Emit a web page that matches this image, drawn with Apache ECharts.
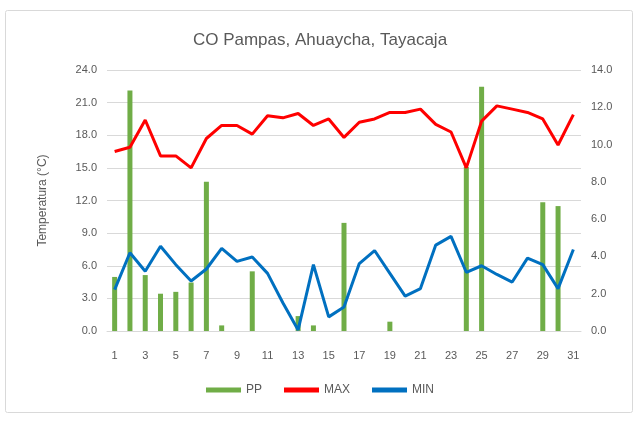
<!DOCTYPE html>
<html>
<head>
<meta charset="utf-8">
<script src="https://cdn.jsdelivr.net/npm/echarts@6/dist/echarts.min.js"></script>
<style>html,body{margin:0;padding:0;background:#fff}#c{width:640px;height:423px}</style>
</head>
<body>
<div id="c"></div>
<script>
const days = ['1','2','3','4','5','6','7','8','9','10','11','12','13','14','15','16','17','18','19','20','21','22','23','24','25','26','27','28','29','30','31'];
const pp = [2.9,12.9,3.0,2.0,2.1,2.6,8.0,0.3,0,3.2,0,0,0.8,0.3,0,5.8,0,0,0.5,0,0,0,0,8.8,13.1,0,0,0,6.9,6.7,0];
const tmax = [16.5,16.9,19.4,16.1,16.1,15.0,17.7,18.9,18.9,18.1,19.8,19.6,20.0,18.9,19.5,17.8,19.2,19.5,20.1,20.1,20.4,19.0,18.3,15.0,19.3,20.7,20.4,20.1,19.5,17.1,19.9];
const tmin = [3.8,7.2,5.5,7.8,6.1,4.6,5.7,7.6,6.4,6.8,5.3,2.6,0.1,6.1,1.3,2.2,6.2,7.4,5.3,3.2,3.9,7.9,8.7,5.4,6.0,5.2,4.5,6.7,6.1,3.9,7.5];

const chart = echarts.init(document.getElementById('c'));
const txt = '#595959';
const font = 'Liberation Sans';
chart.setOption({
  animation: false,
  textStyle: { fontFamily: font },
  graphic: [{
    type: 'rect', shape: { x: 5.5, y: 10.5, width: 627, height: 402, r: 2 },
    style: { fill: 'none', stroke: '#D9D9D9', lineWidth: 1 }, z: -1
  }],
  title: {
    text: 'CO Pampas, Ahuaycha, Tayacaja', left: 'center', top: 27,
    textStyle: { color: txt, fontSize: 17, fontWeight: 'normal', fontFamily: font }
  },
  legend: {
    bottom: 22, left: 'center', itemWidth: 35, itemHeight: 5, itemGap: 22,
    textStyle: { color: txt, fontSize: 12, fontFamily: font },
    data: [{ name: 'PP', icon: 'rect' }, { name: 'MAX', icon: 'rect' }, { name: 'MIN', icon: 'rect' }]
  },
  grid: { left: 107, right: 59, top: 70, bottom: 92 },
  xAxis: {
    type: 'category', data: days, boundaryGap: true,
    axisLine: { lineStyle: { color: '#D9D9D9' } },
    axisTick: { show: false },
    axisLabel: { color: txt, fontSize: 11, interval: 1, margin: 19, fontFamily: font }
  },
  yAxis: [{
    type: 'value', min: 0, max: 24, interval: 3,
    name: 'Temperatura (°C)', nameLocation: 'middle', nameGap: 58, nameRotate: 90,
    nameTextStyle: { color: txt, fontSize: 12, fontFamily: font },
    axisLabel: { color: txt, fontSize: 11, formatter: v => v.toFixed(1), margin: 10, fontFamily: font },
    splitLine: { lineStyle: { color: '#D9D9D9' } },
    axisLine: { show: false }, axisTick: { show: false }
  }, {
    type: 'value', min: 0, max: 14, interval: 2, position: 'right',
    axisLabel: { color: txt, fontSize: 11, formatter: v => v.toFixed(1), margin: 10, fontFamily: font },
    splitLine: { show: false }, axisLine: { show: false }, axisTick: { show: false }
  }],
  series: [{
    name: 'PP', type: 'bar', yAxisIndex: 1, data: pp, barWidth: 5,
    itemStyle: { color: '#70AD47' }
  }, {
    name: 'MAX', type: 'line', data: tmax, symbol: 'none',
    lineStyle: { color: '#FF0000', width: 3 }, itemStyle: { color: '#FF0000' }
  }, {
    name: 'MIN', type: 'line', data: tmin, symbol: 'none',
    lineStyle: { color: '#0070C0', width: 3 }, itemStyle: { color: '#0070C0' }
  }]
});
</script>
</body>
</html>
